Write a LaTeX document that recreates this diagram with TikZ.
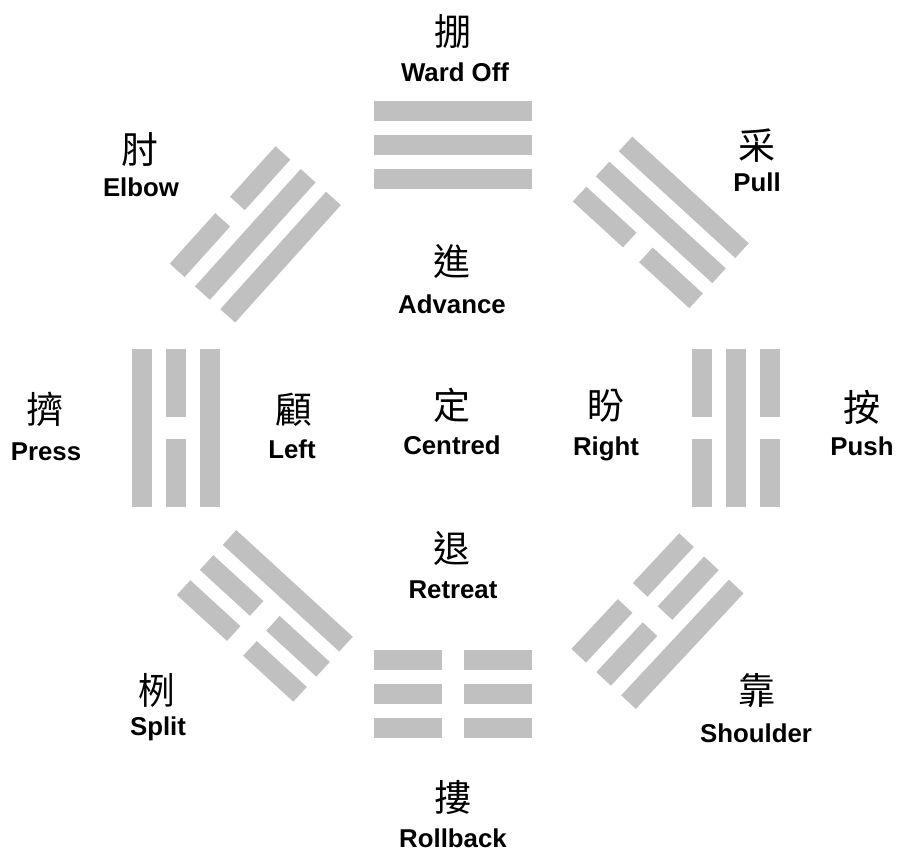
\documentclass[tikz,border=0pt]{standalone}
\usepackage{fontspec}
\setmainfont{Liberation Sans}
\newfontfamily\cjk{Noto Sans CJK TC}
\definecolor{bargray}{RGB}{192,192,192}
\tikzset{
  lat/.style={font=\fontsize{25.8}{30}\selectfont\bfseries, anchor=base, inner sep=0pt},
  han/.style={font=\fontsize{37}{40}\selectfont\cjk, anchor=base, inner sep=0pt},
  yaobar/.style={fill=bargray, draw=none},
}
% a solid line (yang) and a broken line (yin) at local offset #1
\newcommand{\yangbar}[1]{\path[yaobar] (-79,#1-10) rectangle (79,#1+10);}
\newcommand{\yinbar}[1]{\path[yaobar] (-79,#1-10) rectangle (-11,#1+10);
  \path[yaobar] (11,#1-10) rectangle (79,#1+10);}
% centre x, centre y, rotation, outer, middle, inner
\newcommand{\trigramat}[6]{%
  \begin{scope}[shift={(#1,#2)}, rotate=#3]
    #4{34}#5{0}#6{-34}
  \end{scope}}
\begin{document}
\begin{tikzpicture}[x=1pt,y=1pt]
\useasboundingbox (0,0) rectangle (902,852);
% trigrams
\trigramat{453}{707}{0}{\yangbar}{\yangbar}{\yangbar}        % Ward Off
\trigramat{660.8}{629.6}{-42.5}{\yangbar}{\yangbar}{\yinbar} % Pull
\trigramat{736}{424}{270}{\yinbar}{\yangbar}{\yinbar}        % Push
\trigramat{657.5}{230.9}{227}{\yangbar}{\yinbar}{\yinbar}    % Shoulder
\trigramat{453}{158}{180}{\yinbar}{\yinbar}{\yinbar}         % Rollback
\trigramat{264.8}{236.1}{137.5}{\yinbar}{\yinbar}{\yangbar}  % Split
\trigramat{175.5}{424}{90}{\yangbar}{\yinbar}{\yangbar}      % Press
\trigramat{255.3}{617.6}{48}{\yinbar}{\yangbar}{\yangbar}    % Elbow
% labels
\node[han] (wardc) at (453,852-46) {掤};
\node[lat] (wardl) at (455,852-82) {Ward Off};
\node[han] (elbowc) at (140,852-164) {肘};
\node[lat] (elbowl) at (141,852-197) {Elbow};
\node[han] (pullc) at (757,852-160) {采};
\node[lat] (pulll) at (757,852-192) {Pull};
\node[han] (advc) at (452,852-276) {進};
\node[lat] (advl) at (452,852-314) {Advance};
\node[han] (pressc) at (45,852-424) {擠};
\node[lat] (pressl) at (46,852-461) {Press};
\node[han] (leftc) at (294,852-424) {顧};
\node[lat] (leftl) at (292,852-459) {Left};
\node[han] (cenc) at (452,852-420) {定};
\node[lat] (cenl) at (452,852-455) {Centred};
\node[han] (rightc) at (606,852-420) {盼};
\node[lat] (rightl) at (606,852-456) {Right};
\node[han] (pushc) at (862,852-422) {按};
\node[lat] (pushl) at (862,852-456) {Push};
\node[han] (retc) at (452,852-563) {退};
\node[lat] (retl) at (453,852-598) {Retreat};
\node[han] (splitc) at (157,852-704) {栵};
\node[lat] (splitl) at (158,852-735) {Split};
\node[han] (shoulc) at (757,852-704) {靠};
\node[lat] (shoull) at (756,852-742) {Shoulder};
\node[han] (rollc) at (453,852-811) {摟};
\node[lat] (rolll) at (453,852-847) {Rollback};
\end{tikzpicture}
\end{document}
